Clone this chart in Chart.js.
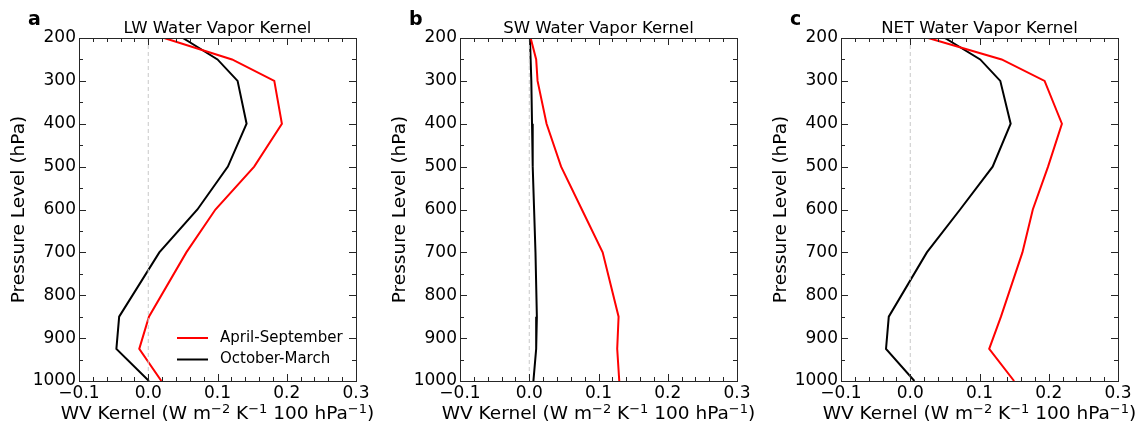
<!DOCTYPE html>
<html>
<head>
<meta charset="utf-8">
<script src="https://cdn.jsdelivr.net/npm/chart.js@4.4.1/dist/chart.umd.min.js"></script>
<style>
  html, body { margin: 0; padding: 0; background: #fff; }
  #wrap { position: relative; width: 1145px; height: 427px; overflow: hidden; }
  canvas { position: absolute; top: 0; }
</style>
</head>
<body>
<div id="wrap">
  <canvas id="panelA" width="381" height="427" style="left:0px"></canvas>
  <canvas id="panelB" width="381" height="427" style="left:381px"></canvas>
  <canvas id="panelC" width="383" height="427" style="left:762px"></canvas>
</div>
<script>
// Pressure levels (hPa)
const levels = [200, 250, 300, 400, 500, 600, 700, 850, 925, 1000];

// Water vapour kernels, W m-2 K-1 100 hPa-1
const lwAprSep  = [0.023, 0.121, 0.182, 0.193, 0.153, 0.097, 0.055, 0.001, -0.013, 0.019];
const lwOctMar  = [0.050, 0.100, 0.129, 0.142, 0.115, 0.071, 0.016, -0.042, -0.046, 0.001];
const swAprSep  = [0.002, 0.010, 0.012, 0.025, 0.046, 0.076, 0.106, 0.129, 0.127, 0.130];
const swOctMar  = [0.001, 0.002, 0.003, 0.004, 0.005, 0.007, 0.009, 0.011, 0.010, 0.006];
const netAprSep = [0.026, 0.132, 0.194, 0.219, 0.199, 0.177, 0.162, 0.131, 0.114, 0.150];
const netOctMar = [0.050, 0.101, 0.130, 0.145, 0.119, 0.072, 0.024, -0.031, -0.035, 0.006];

const seriesNames = ['April-September', 'October-March'];
const panelTitles = ['LW Water Vapor Kernel', 'SW Water Vapor Kernel', 'NET Water Vapor Kernel'];
const panelLetters = ['a', 'b', 'c'];
const xTickValues = [-0.1, 0.0, 0.1, 0.2, 0.3];
const yTickValues = [200, 300, 400, 500, 600, 700, 800, 900, 1000];

// x-axis label pieces; sup marks the raised exponents
const xLabelParts = [
  { t: 'WV Kernel (W m' }, { t: '\u22122', sup: true }, { t: ' K' },
  { t: '\u22121', sup: true }, { t: ' 100 hPa' }, { t: '\u22121', sup: true }, { t: ')' }
];

const FONT = "'DejaVu Sans', sans-serif";
const LABEL_SIZE = 18.5;
const SUP_SIZE = 13;

function toPoints(values) {
  return values.map((v, i) => ({ x: v, y: levels[i] }));
}
function fmtX(v) {
  if (Math.abs(v) < 1e-9) return '0.0';
  return v.toFixed(1).replace('-', '\u2212');
}

// Frame, inward ticks on all four sides, titles, panel letter, optional legend
const decorPlugin = {
  id: 'decor',
  afterDraw(chart, args, opts) {
    const ctx = chart.ctx;
    const a = chart.chartArea;
    const xs = chart.scales.x, ys = chart.scales.y;
    ctx.save();
    ctx.strokeStyle = '#262626';
    ctx.lineWidth = 1;
    const majorLen = 7, minorLen = 4;
    ctx.beginPath();
    for (let k = -50; k <= 150; k += 10) {
      const v = k / 500; // 0.02 spacing
      const isMajor = (k % 50 === 0);
      const px = Math.round(xs.getPixelForValue(v)) + 0.5;
      if (px < a.left - 0.5 || px > a.right + 0.5) continue;
      const len = isMajor ? majorLen : minorLen;
      ctx.moveTo(px, a.bottom); ctx.lineTo(px, a.bottom - len);
      ctx.moveTo(px, a.top); ctx.lineTo(px, a.top + len);
    }
    for (let p = 200; p <= 1000; p += 50) {
      const isMajor = (p % 100 === 0);
      const py = Math.round(ys.getPixelForValue(p)) + 0.5;
      const len = isMajor ? majorLen : minorLen;
      ctx.moveTo(a.left, py); ctx.lineTo(a.left + len, py);
      ctx.moveTo(a.right, py); ctx.lineTo(a.right - len, py);
    }
    ctx.stroke();
    ctx.strokeRect(Math.round(a.left) + 0.5, Math.round(a.top) + 0.5,
                   Math.round(a.right - a.left), Math.round(a.bottom - a.top));

    // panel title
    ctx.fillStyle = '#000';
    ctx.font = '16.5px ' + FONT;
    ctx.textAlign = 'center';
    ctx.textBaseline = 'alphabetic';
    ctx.fillText(opts.title, (a.left + a.right) / 2, a.top - 5);
    // panel letter
    ctx.font = 'bold 19px ' + FONT;
    ctx.textAlign = 'left';
    ctx.fillText(opts.letter, a.left - 51, a.top - 13);

    // x-axis label with raised exponents
    ctx.textAlign = 'left';
    let total = 0;
    const widths = xLabelParts.map(p => {
      ctx.font = (p.sup ? SUP_SIZE : LABEL_SIZE) + 'px ' + FONT;
      const w = ctx.measureText(p.t).width;
      total += w;
      return w;
    });
    let cx = (a.left + a.right) / 2 - total / 2;
    const base = a.bottom + 38;
    xLabelParts.forEach((p, i) => {
      ctx.font = (p.sup ? SUP_SIZE : LABEL_SIZE) + 'px ' + FONT;
      ctx.fillText(p.t, cx, p.sup ? base - 6 : base);
      cx += widths[i];
    });

    // legend
    if (opts.legend) {
      ctx.font = '15px ' + FONT;
      ctx.textBaseline = 'middle';
      const ds = chart.data.datasets.filter(d => d.label);
      const x0 = a.right - 179, rowH = 21.5;
      const y0 = ys.getPixelForValue(1000) - 43;
      ds.forEach((d, i) => {
        const y = y0 + i * rowH;
        ctx.strokeStyle = d.borderColor;
        ctx.lineWidth = 2;
        ctx.beginPath();
        ctx.moveTo(x0, y); ctx.lineTo(x0 + 31, y);
        ctx.stroke();
        ctx.fillStyle = '#000';
        ctx.fillText(d.label, x0 + 43, y);
      });
    }
    ctx.restore();
  }
};

function makePanel(canvasId, idx, aprSep, octMar, showLegend) {
  const canvas = document.getElementById(canvasId);
  const W = canvas.width;
  const rightPad = W - 356;
  return new Chart(canvas, {
    type: 'scatter',
    data: {
      datasets: [
        {
          data: [{ x: 0, y: levels[0] }, { x: 0, y: levels[levels.length - 1] }],
          showLine: true, borderColor: '#c8c8c8', borderWidth: 1,
          borderDash: [4, 3], pointRadius: 0
        },
        {
          label: seriesNames[0], data: toPoints(aprSep), showLine: true,
          borderColor: '#ff0000', borderWidth: 2, pointRadius: 0, tension: 0
        },
        {
          label: seriesNames[1], data: toPoints(octMar), showLine: true,
          borderColor: '#000000', borderWidth: 2, pointRadius: 0, tension: 0
        }
      ]
    },
    options: {
      responsive: false,
      animation: false,
      layout: { padding: { top: 38, right: rightPad, left: 0, bottom: 0 } },
      plugins: {
        legend: { display: false },
        tooltip: { enabled: false },
        decor: { title: panelTitles[idx], letter: panelLetters[idx], legend: showLegend }
      },
      scales: {
        x: {
          type: 'linear', min: -0.1, max: 0.3,
          afterBuildTicks: s => { s.ticks = xTickValues.map(v => ({ value: v })); },
          afterFit: s => { s.height = 46; },
          grid: { display: false, drawTicks: false },
          border: { display: false },
          ticks: {
            color: '#000', padding: 2, maxRotation: 0, autoSkip: false,
            font: { family: FONT, size: 17 },
            callback: v => fmtX(v)
          },
          title: { display: false }
        },
        y: {
          type: 'linear', min: 200, max: 1000, reverse: true,
          afterBuildTicks: s => { s.ticks = yTickValues.map(v => ({ value: v })); },
          afterFit: s => { s.width = 79; },
          grid: { display: false, drawTicks: false },
          border: { display: false },
          ticks: {
            color: '#000', padding: 3, autoSkip: false,
            font: { family: FONT, size: 17 },
            callback: v => String(v)
          },
          title: {
            display: true, color: '#000', text: 'Pressure Level (hPa)',
            font: { family: FONT, size: LABEL_SIZE },
            padding: { top: 8, bottom: 0 }
          }
        }
      }
    },
    plugins: [decorPlugin]
  });
}

makePanel('panelA', 0, lwAprSep, lwOctMar, true);
makePanel('panelB', 1, swAprSep, swOctMar, false);
makePanel('panelC', 2, netAprSep, netOctMar, false);
</script>
</body>
</html>
